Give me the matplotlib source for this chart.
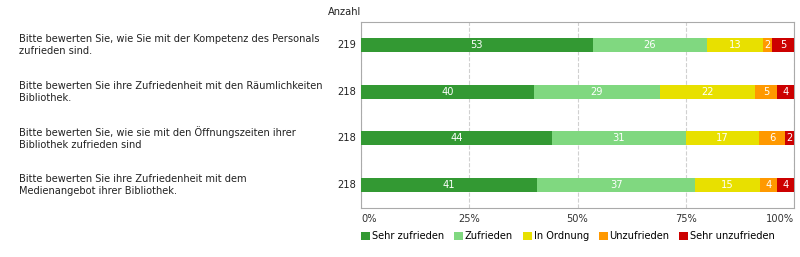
import numpy as np
import matplotlib.pyplot as plt
from matplotlib.transforms import blended_transform_factory

questions = [
    "Bitte bewerten Sie, wie Sie mit der Kompetenz des Personals\nzufrieden sind.",
    "Bitte bewerten Sie ihre Zufriedenheit mit den Räumlichkeiten\nBibliothek.",
    "Bitte bewerten Sie, wie sie mit den Öffnungszeiten ihrer\nBibliothek zufrieden sind",
    "Bitte bewerten Sie ihre Zufriedenheit mit dem\nMedienangebot ihrer Bibliothek.",
]
counts = [219, 218, 218, 218]
categories = ["Sehr zufrieden", "Zufrieden", "In Ordnung", "Unzufrieden", "Sehr unzufrieden"]
colors = ["#339933", "#80d880", "#e8e000", "#ff9900", "#cc0000"]
# percentages as printed on the bars
pct = np.array([
    [53, 26, 13, 2, 5],
    [40, 29, 22, 5, 4],
    [44, 31, 17, 6, 2],
    [41, 37, 15, 4, 4],
], float)

fs = 7.1
fig = plt.figure(figsize=(8, 2.57), dpi=100)
ax = fig.add_axes([361/800, 49/257, 433/800, 186/257])

widths = pct / pct.sum(axis=1, keepdims=True) * 100
y = np.arange(len(questions))
left = np.zeros(len(questions))
for k in range(len(categories)):
    ax.barh(y, widths[:, k], left=left, height=0.3, color=colors[k], label=categories[k], zorder=3)
    for i in range(len(y)):
        ax.text(left[i] + widths[i, k] / 2, y[i], "%d" % pct[i, k], color="white",
                ha="center", va="center", fontsize=fs, zorder=4)
    left += widths[:, k]

ax.set_xlim(0, 100)
ax.set_ylim(3.5, -0.5)
ax.set_yticks([])
ax.set_xticks([0, 25, 50, 75, 100])
ax.set_xticklabels(["0%", "25%", "50%", "75%", "100%"], fontsize=fs, color="#333333")
tl = ax.get_xticklabels()
tl[0].set_ha("left")
tl[-1].set_ha("right")
ax.tick_params(axis="x", length=0, pad=4)
ax.grid(axis="x", linestyle="--", color="#d0d0d0", linewidth=0.8, zorder=0)
for s in ax.spines.values():
    s.set_color("#aaaaaa")

tr = blended_transform_factory(fig.transFigure, ax.transData)
for i in range(len(y)):
    ax.text(19/800, y[i], questions[i], transform=tr, ha="left", va="center",
            fontsize=fs, color="#222222", linespacing=1.3)
    ax.text(-0.01, y[i], str(counts[i]), transform=blended_transform_factory(ax.transAxes, ax.transData),
            ha="right", va="center", fontsize=fs, color="#222222")
fig.text(345/800, 1 - 12/257, "Anzahl", ha="center", va="center", fontsize=fs, color="#222222")

fig.legend(loc="center left", bbox_to_anchor=(361/800, 1 - 236/257), ncol=5, frameon=False,
           fontsize=fs, handlelength=0.9, handleheight=0.9, handletextpad=0.2,
           columnspacing=1.0, borderaxespad=0, borderpad=0)

fig.savefig("out.png", dpi=100)
